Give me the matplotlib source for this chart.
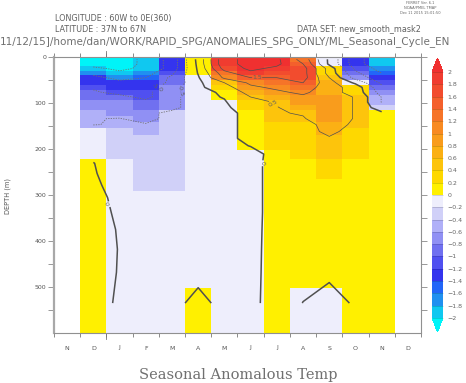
import numpy as np
import matplotlib
matplotlib.use("Agg")
import matplotlib.pyplot as plt
from matplotlib.colors import ListedColormap, BoundaryNorm

# depth of each level (m), cell centres
depth = [5, 15, 25, 35, 45, 56, 66, 77, 87, 98, 110, 122, 134, 147, 162, 177,
         193, 211, 231, 253, 278, 306, 338, 375, 418, 468, 535]
months = ["D", "J", "F", "M", "A", "M", "J", "J", "A", "S", "O", "N"]
axis_months = ["N"] + months + ["D"]

# anomaly profiles, one list per month (top -> bottom)
dec = [-2.2, -2.2, -1.9, -1.7, -1.3, -1.3, -1.05, -0.95, -0.9, -0.7, -0.7, -0.52, -0.52, -0.52,
       -0.1, -0.1, -0.1, -0.1, 0.01, 0.03, 0.07, 0.12, 0.13, 0.17, 0.17, 0.15, 0.14]
jan = [-2.2, -2.2, -2.1, -1.9, -1.7, -1.3, -1.3, -1.1, -0.9, -0.7, -0.7, -0.7, -0.48, -0.45,
       -0.3, -0.3, -0.3, -0.25, -0.19, -0.18, -0.15, -0.1, -0.06, -0.03, -0.015, -0.02, -0.05]
feb = [-1.9, -1.9, -1.9, -1.7, -1.5, -1.3, -1.3, -1.1, -1.1, -0.9, -0.9, -0.7, -0.7, -0.45,
       -0.45, -0.3, -0.3, -0.3, -0.3, -0.3, -0.3, -0.1, -0.1, -0.1, -0.1, -0.1, -0.1]
mar = [-1.3, -1.3, -1.3, -1.1, -0.9, -0.9, -0.7, -0.7, -0.7, -0.7, -0.7, -0.3, -0.3, -0.3,
       -0.3, -0.3, -0.3, -0.3, -0.3, -0.3, -0.3, -0.1, -0.1, -0.1, -0.1, -0.1, -0.1]
apr = [0.15, 0.12, 0.08, 0.03, -0.05, -0.1, -0.1, -0.1, -0.1, -0.1, -0.1, -0.1, -0.1, -0.1,
       -0.1, -0.1, -0.1, -0.1, -0.1, -0.1, -0.1, -0.1, -0.1, -0.1, -0.1, -0.1, 0.1]
may = [1.9, 1.9, 1.7, 1.3, 1.1, 0.5, 0.3, 0.05, 0.02, -0.03, -0.1, -0.1, -0.1, -0.1,
       -0.1, -0.1, -0.1, -0.1, -0.1, -0.1, -0.1, -0.1, -0.1, -0.1, -0.1, -0.1, -0.1]
jun = [2.1, 2.1, 2.1, 1.9, 1.5, 1.1, 0.9, 0.7, 0.5, 0.3, 0.3, 0.1, 0.1, 0.1,
       0.1, 0.1, 0.01, -0.1, -0.1, -0.1, -0.1, -0.1, -0.1, -0.1, -0.1, -0.1, -0.1]
jul = [2.1, 2.1, 1.9, 1.7, 1.5, 1.3, 1.1, 0.9, 0.75, 0.55, 0.48, 0.45, 0.42, 0.35,
       0.3, 0.3, 0.3, 0.1, 0.12, 0.12, 0.12, 0.12, 0.12, 0.13, 0.14, 0.15, 0.17]
aug = [1.3, 1.5, 1.7, 1.7, 1.7, 1.5, 1.3, 1.1, 0.9, 0.9, 0.7, 0.55, 0.45, 0.38,
       0.3, 0.3, 0.25, 0.22, 0.1, 0.1, 0.1, 0.1, 0.1, 0.1, 0.1, 0.1, -0.005]
sep = [-0.1, -0.1, 0.3, 0.3, 0.5, 0.7, 0.7, 0.7, 0.9, 0.9, 0.9, 0.9, 0.9, 0.62,
       0.62, 0.45, 0.42, 0.4, 0.3, 0.3, 0.1, 0.1, 0.1, 0.1, 0.1, 0.05, -0.1]
octo = [-1.3, -1.3, -1.1, -0.9, -0.7, -0.1, 0.3, 0.3, 0.45, 0.45, 0.45, 0.45, 0.45, 0.45,
        0.3, 0.3, 0.3, 0.3, 0.1, 0.1, 0.1, 0.1, 0.1, 0.1, 0.1, 0.1, 0.03]
nov = [-1.9, -1.9, -1.7, -1.5, -1.3, -1.1, -0.9, -0.7, -0.52, -0.52, -0.3, 0.1, 0.1, 0.1,
       0.1, 0.1, 0.1, 0.1, 0.1, 0.1, 0.1, 0.1, 0.1, 0.1, 0.1, 0.1, 0.1]

levels = np.round(np.arange(-2, 2.01, 0.2), 1) + 0.0
colors = ["#10c8f0", "#2090f0", "#2266f8", "#3434ee", "#5050f0", "#7070f0", "#9090f4",
          "#b0b0f8", "#d0d0f8", "#eeeefc",
          "#fff000", "#fed800", "#fdc40c", "#fbb014", "#f99c1c", "#f88a22", "#f67428",
          "#f4602c", "#f24c2e", "#f03c30"]

Z = np.array([dec, jan, feb, mar, apr, may, jun, jul, aug, sep, octo, nov]).T
d = np.array(depth, dtype=float)
yedges = np.concatenate([[0], (d[1:] + d[:-1]) / 2, [600]])
xc = np.arange(len(months)) + 1.5
xedges = np.arange(len(months) + 1) + 1.0

cmap = ListedColormap(colors).with_extremes(under="#00f4f8", over="#f03030")
norm = BoundaryNorm(levels, cmap.N)

fig = plt.figure(figsize=(4.66, 3.83), dpi=100)
ax = fig.add_axes([54 / 466, 1 - 333 / 383, 367 / 466, 276 / 383])
mesh = ax.pcolormesh(xedges, yedges, Z, cmap=cmap, norm=norm)

grey = "#505050"
cn = ax.contour(xc, d, Z, levels=[-2, -1.5, -1, -0.5], colors="#707070",
                linewidths=0.6, linestyles=[(0, (1.5, 1.5))])
c0 = ax.contour(xc, d, Z, levels=[0], colors=grey, linewidths=1.1)
cp = ax.contour(xc, d, Z, levels=[0.5, 1, 1.5, 2], colors=grey, linewidths=0.5)
lab = dict(fontsize=4.5, colors="#606060", inline=True, inline_spacing=1)
ax.clabel(cn, fmt="%.1f", manual=[(3.85, 56), (4.69, 72)], **lab)
ax.clabel(cp, fmt="%.1f", manual=[(7.75, 54), (8.44, 95)], **lab)
ax.clabel(c0, fmt="%g", manual=[(2.52, 312), (7.75, 230)], **lab)

ax.set_xlim(0, 14)
ax.set_ylim(600, 0)
ax.set_xticks(np.arange(14) + 0.5)
ax.set_xticklabels(axis_months)
ax.set_xticks(np.arange(15), minor=True)
ax.tick_params(axis="x", which="major", length=0, pad=9, labelsize=4.5, labelcolor="#555555")
ax.tick_params(axis="x", which="minor", length=3, direction="out", top=True, bottom=True,
               color="#777777", width=0.6)
ax.set_yticks(np.arange(0, 501, 100))
ax.set_yticks(np.arange(50, 600, 100), minor=True)
ax.tick_params(axis="y", which="both", length=4, direction="out", left=True, right=True,
               color="#888888", width=0.6, labelsize=4.5, labelcolor="#555555", pad=1.5)
# longer tick at the year boundary
for yy in (0, 1):
    ax.plot([2, 2], [yy, yy + (0.02 if yy else -0.02)], color="#777777", lw=0.6,
            transform=ax.get_xaxis_transform(), clip_on=False)
for s in ax.spines.values():
    s.set_color("#909090")
    s.set_linewidth(0.8)
ax.spines["left"].set_color("#a8a8a8")
ax.spines["left"].set_linewidth(1.6)

cax = fig.add_axes([432 / 466, 1 - 332 / 383, 11 / 466, 274 / 383])
cb = fig.colorbar(mesh, cax=cax, extend="both", extendfrac=0.057,
                  drawedges=True, ticks=levels)
cb.outline.set_visible(False)
cb.dividers.set_color("#000000")
cb.dividers.set_alpha(0.25)
cb.dividers.set_linewidth(0.4)
cb.set_ticklabels([("%g" % v).replace("-", "\u2212") for v in levels])
cax.tick_params(length=0, labelsize=4.5, labelcolor="#666666", pad=3)

txt = "#606060"
fig.text(55 / 466, 1 - 18 / 383, "LONGITUDE : 60W to 0E(360)", fontsize=5.8, color=txt, va="center")
fig.text(55 / 466, 1 - 29 / 383, "LATITUDE : 37N to 67N", fontsize=5.8, color=txt, va="center")
fig.text(421 / 466, 1 - 29 / 383, "DATA SET: new_smooth_mask2", fontsize=5.8, color=txt,
         va="center", ha="right")
fig.text(0, 1 - 42 / 383, "11/12/15]/home/dan/WORK/RAPID_SPG/ANOMALIES_SPG_ONLY/ML_Seasonal_Cycle_EN",
         fontsize=7.5, color="#707070", va="center")
for i, line in enumerate(["FERRET Ver. 6.1", "NOAA/PMEL TMAP", "Dec 11 2015 15:01:50"]):
    fig.text(420 / 466, 1 - (3.5 + 4.5 * i) / 383, line, fontsize=2.6, color="#666666",
             ha="center", va="center")
fig.text(8 / 466, 1 - 196 / 383, "DEPTH (m)", rotation=90, fontsize=4.8, color="#555555",
         ha="center", va="center")
fig.text(238 / 466, 1 - 375 / 383, "Seasonal Anomalous Temp", family="DejaVu Serif",
         fontsize=10.5, color="#707070", ha="center", va="center")

fig.savefig("out.png", dpi=100)
